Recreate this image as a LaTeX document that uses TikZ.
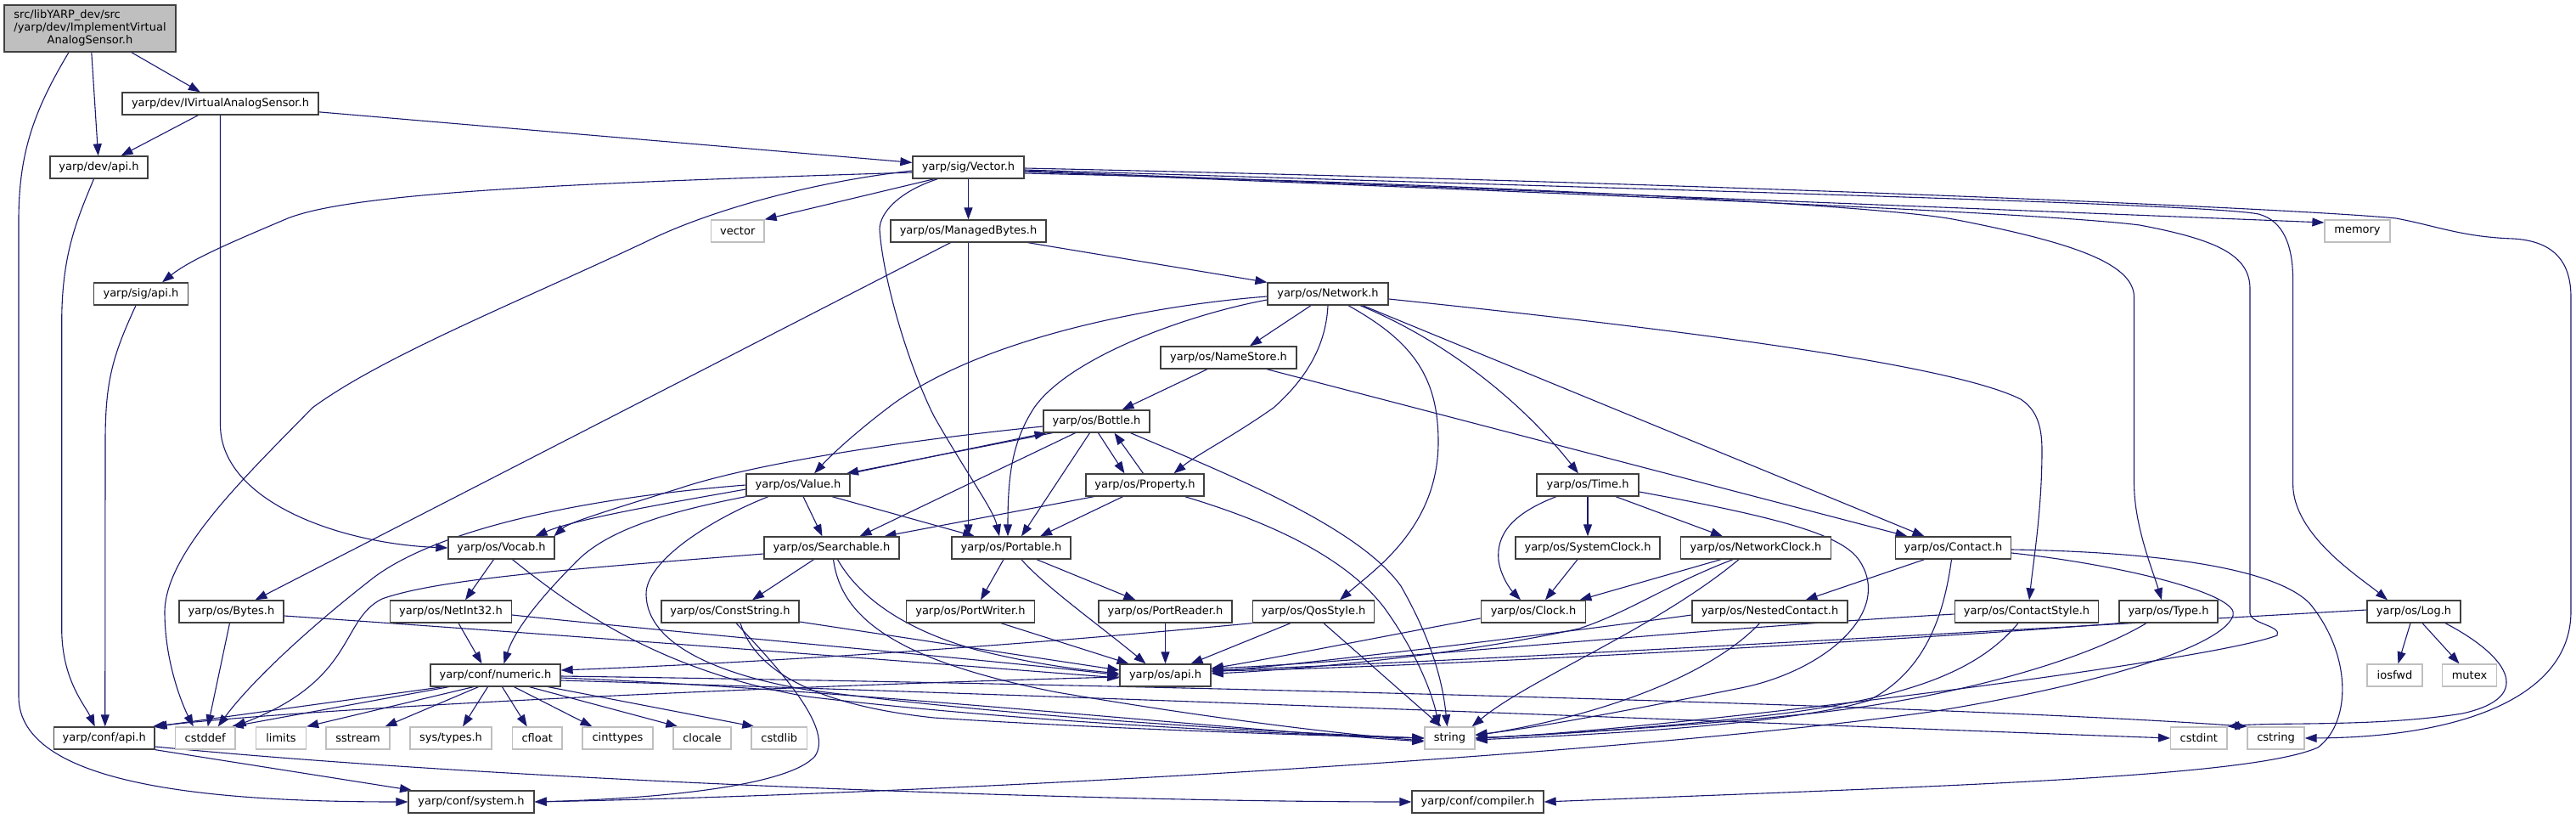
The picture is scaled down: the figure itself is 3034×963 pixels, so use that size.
\documentclass[tikz,border=0pt]{standalone}
\usepackage{fontspec}
\setmainfont{DejaVu Sans}
\usetikzlibrary{arrows.meta}
\definecolor{mb}{HTML}{191970}
\definecolor{bd}{HTML}{404040}
\definecolor{gb}{HTML}{BFBFBF}
\pgfdeclarelayer{bg}
\pgfsetlayers{bg,main}
\tikzset{
  nb/.style={draw=bd, line width=1.3pt, fill=white, inner sep=0pt, minimum height=26pt, font=\fontsize{13}{15}\selectfont, text=black},
  ng/.style={nb, draw=gb},
  e/.style={draw=mb, line width=1.1pt, -{Triangle[length=14pt,width=10pt]}},
}
\begin{document}
\begin{tikzpicture}[x=1pt,y=-1pt]
\begin{pgfonlayer}{bg}
\fill[white] (0,0) rectangle (3034,963);
\end{pgfonlayer}
\useasboundingbox (0,0) rectangle (3034,963);
% nodes
\node[nb, fill=gb, minimum width=202pt, minimum height=55pt] (main) at (106,33.5)
  {\begin{tabular}{@{}l@{}}src/libYARP\_dev/src\\/yarp/dev/ImplementVirtual\\\multicolumn{1}{@{}c@{}}{AnalogSensor.h}\end{tabular}};
\node[nb, minimum width=231pt] (ivas) at (259.5,122) {yarp/dev/IVirtualAnalogSensor.h};
\node[nb, minimum width=115pt] (devapi) at (116.5,197) {yarp/dev/api.h};
\node[nb, minimum width=131pt] (vec) at (1140.5,197) {yarp/sig/Vector.h};
\node[ng, minimum width=62.5pt] (vstd) at (868.75,272) {vector};
\node[nb, minimum width=183pt] (mbytes) at (1140.5,272) {yarp/os/ManagedBytes.h};
\node[ng, minimum width=77pt] (memory) at (2776.5,272) {memory};
\node[nb, minimum width=111pt] (sigapi) at (166,346) {yarp/sig/api.h};
\node[nb, minimum width=142pt] (net) at (1564,346) {yarp/os/Network.h};
\node[nb, minimum width=160pt] (nstore) at (1447,421) {yarp/os/NameStore.h};
\node[nb, minimum width=125pt] (bottle) at (1291.5,496) {yarp/os/Bottle.h};
\node[nb, minimum width=122pt] (value) at (940,571) {yarp/os/Value.h};
\node[nb, minimum width=139pt] (prop) at (1348.5,571) {yarp/os/Property.h};
\node[nb, minimum width=120pt] (time) at (1870,571) {yarp/os/Time.h};
\node[nb, minimum width=125pt] (vocab) at (590.5,645) {yarp/os/Vocab.h};
\node[nb, minimum width=159pt] (search) at (979.5,645) {yarp/os/Searchable.h};
\node[nb, minimum width=140pt] (port) at (1191,645) {yarp/os/Portable.h};
\node[nb, minimum width=170pt] (sclock) at (1870,645) {yarp/os/SystemClock.h};
\node[nb, minimum width=177.5pt] (nclock) at (2068,645) {yarp/os/NetworkClock.h};
\node[nb, minimum width=136pt] (contact) at (2300.5,645) {yarp/os/Contact.h};
\node[nb, minimum width=123pt] (bytes) at (272.5,720) {yarp/os/Bytes.h};
\node[nb, minimum width=143pt] (nint) at (531,720) {yarp/os/NetInt32.h};
\node[nb, minimum width=162pt] (cstr) at (860,720) {yarp/os/ConstString.h};
\node[nb, minimum width=150.5pt] (pwriter) at (1143,720) {yarp/os/PortWriter.h};
\node[nb, minimum width=157pt] (preader) at (1372.5,720) {yarp/os/PortReader.h};
\node[nb, minimum width=143.5pt] (qos) at (1547,720) {yarp/os/QosStyle.h};
\node[nb, minimum width=123.5pt] (clock) at (1806,720) {yarp/os/Clock.h};
\node[nb, minimum width=183pt] (nested) at (2084.5,720) {yarp/os/NestedContact.h};
\node[nb, minimum width=169.4pt] (cstyle) at (2387,720) {yarp/os/ContactStyle.h};
\node[nb, minimum width=116pt] (type) at (2554,720) {yarp/os/Type.h};
\node[nb, minimum width=110pt] (log) at (2843,720) {yarp/os/Log.h};
\node[nb, minimum width=153pt] (numeric) at (583.5,795) {yarp/conf/numeric.h};
\node[nb, minimum width=107pt] (osapi) at (1372.5,795) {yarp/os/api.h};
\node[ng, minimum width=65pt] (iosfwd) at (2820.5,795) {iosfwd};
\node[ng, minimum width=64pt] (mutex) at (2908.5,795) {mutex};
\node[nb, minimum width=118.5pt] (confapi) at (122.75,869) {yarp/conf/api.h};
\node[ng, minimum width=70.5pt] (cstddef) at (241.75,869) {cstddef};
\node[ng, minimum width=59pt] (limits) at (331,869) {limits};
\node[ng, minimum width=75pt] (sstream) at (421.5,869) {sstream};
\node[ng, minimum width=96pt] (systypes) at (531,869) {sys/types.h};
\node[ng, minimum width=58.5pt] (cfloat) at (632.75,869) {cfloat};
\node[ng, minimum width=83pt] (cinttypes) at (727.5,869) {cinttypes};
\node[ng, minimum width=68pt] (clocale) at (827,869) {clocale};
\node[ng, minimum width=65.5pt] (cstdlib) at (917.75,869) {cstdlib};
\node[ng, minimum width=59pt] (nstring) at (1707.5,869) {string};
\node[ng, minimum width=66.4pt] (cstdint) at (2589.8,869) {cstdint};
\node[ng, minimum width=67pt] (cstring) at (2680.5,869) {cstring};
\node[nb, minimum width=148pt] (system) at (555,944) {yarp/conf/system.h};
\node[nb, minimum width=155pt] (compiler) at (1740.5,944) {yarp/conf/compiler.h};

\begin{pgfonlayer}{bg}
% main
\draw[e] (main) -- (ivas);
\draw[e] (main) -- (devapi);
\draw[e] ([xshift=-25pt]main.south) .. controls (40,130) and (22,180) .. (22,260) -- (22,820) .. controls (22,925) and (250,944) .. (system.west);
% IVirtualAnalogSensor
\draw[e] (ivas) -- (devapi);
\draw[e] (ivas) -- (vec);
\draw[e] (ivas.south) -- (259.5,500) .. controls (259.5,590) and (400,640) .. (vocab.west);
% dev/api, sig/api
\draw[e] ([xshift=-6pt]devapi.south) .. controls (90,260) and (72.7,300) .. (72.7,380) -- (72.7,740) .. controls (72.7,800) and (100,830) .. ([xshift=-11pt]confapi.north);
\draw[e] ([xshift=-6pt]sigapi.south) .. controls (132,420) and (124,450) .. (124,520) -- ([xshift=1pt]confapi.north);
% Vector.h
\draw[e] ([yshift=-6pt]vec.west) .. controls (700,215) and (420,225) .. (339,257) .. controls (280,282) and (225,305) .. ([xshift=25pt]sigapi.north);
\draw[e] ([xshift=-40pt]vec.south) -- (vstd.north east);
\draw[e] (vec.south) -- (mbytes.north);
\draw[e] ([yshift=-4pt]vec.east) -- ([yshift=10pt]memory.west);
\draw[e] ([yshift=-1pt]vec.east) .. controls (2000,215) and (2700,245) .. (2822,257) .. controls (2870,266) and (2900,279) .. (2960,281) .. controls (3010,284) and (3028,310) .. (3028,350) -- (3028,720) .. controls (3028,820) and (2900,868) .. (cstring.east);
\draw[e] ([yshift=-3pt]vec.east) .. controls (2000,225) and (2600,240) .. (2660,252) .. controls (2690,260) and (2700.6,290) .. (2700.6,330) -- (2700.6,570) .. controls (2700.6,630) and (2780,680) .. ([xshift=-31pt]log.north);
\draw[e] ([yshift=-5pt]vec.east) .. controls (1900,230) and (2400,250) .. (2520,265) .. controls (2610,282) and (2650,300) .. (2650,340) -- (2650,722) .. controls (2650,734) and (2688,737) .. (2682,748) .. controls (2600,780) and (1950,860) .. (nstring.east);
\draw[e] ([yshift=-7pt]vec.east) .. controls (1700,215) and (2200,240) .. (2300,258) .. controls (2440,285) and (2513.5,310) .. (2513.5,350) -- (2513.5,570) .. controls (2514,620) and (2535,670) .. ([xshift=-8pt]type.north);
\draw[e] ([yshift=-4pt]vec.west) .. controls (950,215) and (830,250) .. (760,285) .. controls (600,360) and (450,420) .. (368,480) .. controls (290,560) and (195,650) .. (194,720) .. controls (194,780) and (215,830) .. ([xshift=-14pt]cstddef.north);
\draw[e] ([xshift=-36pt]vec.south) .. controls (1060,225) and (1036,250) .. (1036,270) .. controls (1040,330) and (1070,430) .. (1100,490) .. controls (1140,560) and (1170,600) .. ([xshift=-14pt]port.north);
% ManagedBytes
\draw[e] ([xshift=-21pt]mbytes.south) -- ([xshift=28pt]bytes.north);
\draw[e] ([xshift=70pt]mbytes.south) -- (net.north west);
\draw[e] (mbytes.south) -- (port.north -| mbytes.south);
% Network
\draw[e] ([xshift=-20pt]net.south) -- ([xshift=25pt]nstore.north);
\draw[e] ([yshift=-3pt]net.west) .. controls (1350,360) and (1150,400) .. (1046,480) .. controls (1000,515) and (975,540) .. ([xshift=19pt]value.north);
\draw[e] ([yshift=-7pt]net.west) .. controls (1400,370) and (1260,420) .. (1218,480) .. controls (1192,520) and (1187,560) .. ([xshift=-4pt]port.north);
\draw[e] (net.south) .. controls (1562,400) and (1545,440) .. (1500,480) .. controls (1450,515) and (1410,535) .. ([xshift=34pt]prop.north);
\draw[e] ([xshift=24pt]net.south) .. controls (1660,400) and (1694,440) .. (1694,520) .. controls (1694,620) and (1620,670) .. ([xshift=31pt]qos.north);
\draw[e] ([xshift=38pt]net.south) .. controls (1700,400) and (1790,470) .. ([xshift=-11pt]time.north);
\draw[e] ([xshift=41pt]net.south) -- ([xshift=-34pt]contact.north);
\draw[e] ([yshift=-6pt]net.east) .. controls (2000,390) and (2300,430) .. (2380,470) .. controls (2398,482) and (2405,500) .. (2405,530) .. controls (2405,600) and (2395,660) .. ([xshift=3pt]cstyle.north);
% NameStore
\draw[e] ([xshift=-25pt]nstore.south) -- ([xshift=30pt]bottle.north);
\draw[e] ([xshift=45pt]nstore.south) -- ([xshift=-54pt]contact.north);
% Bottle
\draw[e] ([xshift=-52pt]bottle.south) -- ([xshift=57pt]value.north);
\draw[e] ([yshift=-6pt]bottle.west) .. controls (1050,520) and (880,548) .. (800,575) .. controls (720,600) and (670,615) .. ([xshift=62pt]vocab.north);
\draw[e] ([xshift=-25pt]bottle.south) -- ([xshift=33pt]search.north);
\draw[e] ([xshift=-8pt]bottle.south) -- ([xshift=12pt]port.north);
\draw[e] ([xshift=2pt]bottle.south) -- ([xshift=-24pt]prop.north);
\draw[e] ([xshift=40pt]bottle.south) .. controls (1450,560) and (1600,620) .. (1650,690) .. controls (1690,760) and (1700,810) .. ([xshift=-3pt]nstring.north);
% Value
\draw[e] (value.north east) -- ([xshift=-59pt]bottle.south);
\draw[e] ([yshift=-5pt]value.west) .. controls (800,590) and (680,610) .. ([xshift=40pt]vocab.north);
\draw[e] ([xshift=6pt]value.south) -- ([xshift=-11pt]search.north);
\draw[e] ([xshift=40pt]value.south) -- ([xshift=-43pt]port.north);
\draw[e] (value.south west) .. controls (800,600) and (720,620) .. (680,660) .. controls (630,710) and (605,745) .. ([xshift=10pt]numeric.north);
\draw[e] ([xshift=-35pt]value.south) .. controls (840,610) and (760,660) .. (761,700) .. controls (762,760) and (850,795) .. (950,812) .. controls (1200,845) and (1500,862) .. (nstring.west);
\draw[e] (value.west) .. controls (700,585) and (520,620) .. (440,680) .. controls (350,750) and (290,810) .. ([xshift=15pt]cstddef.north);
% Property
\draw[e] ([xshift=-2pt]prop.north) -- ([xshift=21pt]bottle.south);
\draw[e] ([xshift=-60pt]prop.south) -- ([xshift=62pt]search.north);
\draw[e] ([xshift=-26pt]prop.south) -- ([xshift=34pt]port.north);
\draw[e] ([xshift=47pt]prop.south) .. controls (1480,610) and (1580,650) .. (1630,715) .. controls (1670,770) and (1688,820) .. ([xshift=-13pt]nstring.north);
% Time
\draw[e] (time.south) -- (sclock.north);
\draw[e] ([xshift=33pt]time.south) -- ([xshift=-39pt]nclock.north);
\draw[e] ([xshift=-37pt]time.south) .. controls (1780,605) and (1762,630) .. (1765,660) .. controls (1768,680) and (1780,695) .. ([xshift=-15pt]clock.north);
\draw[e] ([yshift=-8pt]time.east) .. controls (2100,610) and (2170,630) .. (2190,660) .. controls (2230,720) and (2150,790) .. (2050,810) .. controls (1900,840) and (1800,858) .. ([yshift=4pt]nstring.east);
% Vocab
\draw[e] ([xshift=-9pt]vocab.south) -- ([xshift=17pt]nint.north);
\draw[e] ([xshift=13pt]vocab.south) .. controls (680,720) and (780,790) .. (950,820) .. controls (1200,850) and (1500,864) .. (nstring.west);
% Searchable
\draw[e] ([xshift=-21pt]search.south) -- ([xshift=26pt]cstr.north);
\draw[e] ([xshift=7pt]search.south) .. controls (1010,700) and (1060,740) .. (1150,765) .. controls (1230,785) and (1290,790) .. ([yshift=2pt]osapi.west);
\draw[e] ([xshift=2pt]search.south) .. controls (990,720) and (1040,775) .. (1245,815) .. controls (1450,850) and (1600,866) .. ([yshift=-3pt]nstring.west);
\draw[e] ([yshift=-7pt]search.west) .. controls (700,668) and (520,680) .. (450,705) .. controls (400,730) and (420,800) .. ([xshift=-2pt]cstddef.north east);
% Portable
\draw[e] ([xshift=-9pt]port.south) -- ([xshift=12pt]pwriter.north);
\draw[e] ([xshift=30pt]port.south) -- ([xshift=-35pt]preader.north);
\draw[e] ([xshift=12pt]port.south) .. controls (1230,690) and (1300,740) .. ([xshift=-23pt]osapi.north);
% clocks
\draw[e] ([xshift=-12pt]sclock.south) -- ([xshift=14pt]clock.north);
\draw[e] ([xshift=-41pt]nclock.south) -- ([xshift=-8pt]clock.north east);
\draw[e] ([xshift=-27pt]nclock.south) .. controls (1960,690) and (1920,720) .. (1860,740) .. controls (1700,775) and (1500,790) .. ([yshift=2pt]osapi.east);
\draw[e] ([xshift=-20pt]nclock.south) .. controls (1950,740) and (1800,800) .. ([xshift=-4pt]nstring.north east);
% Contact
\draw[e] ([xshift=-34pt]contact.south) -- ([xshift=42pt]nested.north);
\draw[e] ([xshift=-2pt]contact.south) .. controls (2290,720) and (2270,790) .. (2200,825) .. controls (2100,855) and (1850,866) .. ([yshift=-2pt]nstring.east);
\draw[e] ([yshift=-2pt]contact.east) .. controls (2550,650) and (2680,670) .. (2720,710) .. controls (2770,770) and (2770,850) .. (2730,880) .. controls (2650,915) and (2300,925) .. (compiler.east);
\draw[e] ([yshift=-6pt]contact.east) .. controls (2500,665) and (2640,700) .. (2630,725) .. controls (2615,765) and (2450,810) .. (2274,838) .. controls (1900,890) and (1100,935) .. (system.east);
% NestedContact, Clock, QosStyle
\draw[e] ([yshift=-4pt]nested.west) .. controls (1800,750) and (1550,780) .. ([yshift=4pt]osapi.east);
\draw[e] ([xshift=-12pt]nested.south) .. controls (2020,790) and (1900,840) .. ([yshift=3pt]nstring.east);
\draw[e] ([yshift=-8pt]clock.west) .. controls (1650,745) and (1500,775) .. ([yshift=8pt]osapi.east);
\draw[e] ([xshift=-27pt]qos.south) -- ([xshift=30pt]osapi.north);
\draw[e] ([xshift=12pt]qos.south) -- ([xshift=-10pt]nstring.north);
\draw[e] (qos.south west) .. controls (1200,760) and (900,780) .. ([yshift=6pt]numeric.east);
% PortWriter, PortReader
\draw[e] ([xshift=36pt]pwriter.south) -- ([xshift=-43pt]osapi.north);
\draw[e] (preader.south) -- (osapi.north);
% ConstString
\draw[e] ([yshift=-12pt]cstr.east) -- ([yshift=6pt]osapi.west);
\draw[e] ([xshift=12pt]cstr.south) .. controls (890,790) and (960,830) .. (1100,845) .. controls (1300,858) and (1550,866) .. (nstring.west);
\draw[e] ([xshift=7pt]cstr.south) .. controls (930,800) and (980,860) .. (960,890) .. controls (930,925) and (780,940) .. (system.east);
% NetInt32, Bytes
\draw[e] ([xshift=9pt]nint.south) -- ([xshift=-16pt]numeric.north);
\draw[e] ([yshift=-4pt]nint.east) .. controls (800,745) and (1200,780) .. (osapi.west);
\draw[e] ([xshift=-2pt]bytes.south) -- ([xshift=3pt]cstddef.north);
\draw[e] ([yshift=-5pt]bytes.east) .. controls (700,750) and (1150,785) .. ([yshift=-3pt]osapi.west);
% numeric
\draw[e] ([xshift=-62pt]numeric.south) -- (confapi.north east);
\draw[e] ([xshift=-55pt]numeric.south) -- ([xshift=-5pt]cstddef.north east);
\draw[e] ([xshift=-26pt]numeric.south) -- (limits.north east);
\draw[e] ([xshift=-20pt]numeric.south) -- ([xshift=32pt]sstream.north);
\draw[e] ([xshift=-9pt]numeric.south) -- ([xshift=14pt]systypes.north);
\draw[e] ([xshift=8pt]numeric.south) -- ([xshift=-12pt]cfloat.north);
\draw[e] ([xshift=22pt]numeric.south) -- ([xshift=-30pt]cinttypes.north);
\draw[e] ([xshift=40pt]numeric.south) -- ([xshift=6pt]clocale.north west);
\draw[e] ([xshift=62pt]numeric.south) -- ([xshift=4pt]cstdlib.north west);
\draw[e] ([yshift=-3pt]numeric.east) .. controls (1000,812) and (1400,855) .. ([yshift=-4pt]nstring.west);
\draw[e] ([yshift=-1pt]numeric.east) .. controls (1300,805) and (2300,830) .. (cstring.north west);
\draw[e] ([yshift=-6pt]numeric.east) .. controls (1300,820) and (2300,860) .. (cstdint.west);
% os/api
\draw[e] ([yshift=-2pt]osapi.west) .. controls (1000,805) and (400,830) .. ([xshift=-3pt]confapi.north east);
% Log
\draw[e] ([xshift=-4pt]log.south) -- ([xshift=4pt]iosfwd.north);
\draw[e] ([xshift=10pt]log.south) -- ([xshift=-12pt]mutex.north);
\draw[e] ([xshift=37pt]log.south) .. controls (2950,770) and (2990,820) .. (2900,840) .. controls (2800,856) and (2680,850) .. (cstdint.north east);
\draw[e] ([yshift=2pt]log.west) .. controls (2400,740) and (1700,780) .. ([yshift=6pt]osapi.east);
% Type, ContactStyle
\draw[e] (type.south west) .. controls (2300,750) and (1700,785) .. ([yshift=5pt]osapi.east);
\draw[e] ([xshift=-26pt]type.south) .. controls (2450,780) and (2300,820) .. (2150,838) .. controls (2000,855) and (1800,866) .. (nstring.east);
\draw[e] ([yshift=-3pt]cstyle.west) .. controls (2000,740) and (1600,780) .. ([yshift=8pt]osapi.east);
\draw[e] ([xshift=-10pt]cstyle.south) .. controls (2330,790) and (2250,820) .. (2100,840) .. controls (1950,858) and (1800,866) .. (nstring.east);
% conf/api
\draw[e] (confapi.south east) -- ([xshift=-70pt]system.north);
\draw[e] ([yshift=-10pt]confapi.east) .. controls (600,920) and (1300,944) .. (compiler.west);
\end{pgfonlayer}
\end{tikzpicture}
\end{document}
